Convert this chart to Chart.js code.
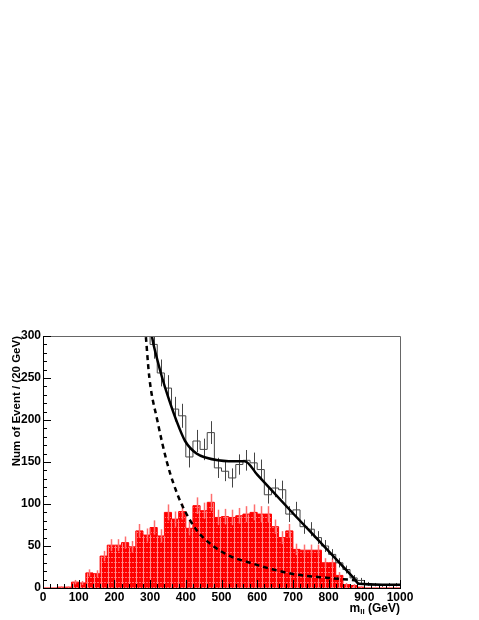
<!DOCTYPE html>
<html>
<head>
<meta charset="utf-8">
<script src="https://cdn.jsdelivr.net/npm/chart.js@4"></script>
<style>
  body { margin: 0; background: #fff; }
  canvas { display: block; }
</style>
</head>
<body>
<canvas id="massChart" width="479" height="620"></canvas>
<script>
// bins of 20 GeV from 0 to 1000 (lower edges, plus the last upper edge)
const binEdges = Array.from({ length: 51 }, (_, i) => i * 20);

// signal histogram (red, filled)
const signalCounts = [0, 0, 1, 1, 7, 6, 18, 17, 38, 51,
  51, 54, 49, 68, 63, 72, 62, 90, 82, 91,
  71, 98, 92, 102, 84, 85, 84, 86, 88, 90,
  88, 88, 73, 60, 68, 46, 45, 45, 45, 30,
  30, 15, 4, 3, 1, 0, 0, 0, 0, 0];
const signalErrors = [0, 0, 1, 1, 2.6, 2.4, 4.2, 4.1, 6.2, 7.1,
  7.1, 7.3, 7, 8.2, 7.9, 8.5, 7.9, 9.5, 9.1, 9.5,
  8.4, 9.9, 9.6, 10.1, 9.2, 9.2, 9.2, 9.3, 9.4, 9.5,
  9.4, 9.4, 8.5, 7.7, 8.2, 6.8, 6.7, 6.7, 6.7, 5.5,
  5.5, 3.9, 2, 1.7, 1, 0, 0, 0, 0, 0];

// total histogram (black outline), nothing drawn below 280 GeV (off scale)
const totalCounts = [null, null, null, null, null, null, null, null, null, null,
  null, null, null, null, 320, 290, 256, 238, 213, 205,
  156, 175, 165, 185, 143, 139, 131, 147, 152, 149,
  141, 111, 119, 117, 88, 93, 73, 70, 60, 50,
  40, 30, 22, 12, 9, 5, 4, 3, 4, 4];
const totalErrors = [0, 0, 0, 0, 0, 0, 0, 0, 0, 0,
  0, 0, 0, 0, 17.9, 17, 16, 15.4, 14.6, 14.3,
  12.5, 13.2, 12.8, 13.6, 12, 11.8, 11.4, 12.1, 12.3, 12.2,
  11.9, 10.5, 10.9, 10.8, 9.4, 9.6, 8.5, 8.4, 7.7, 7.1,
  6.3, 5.5, 4.7, 3.5, 3, 2.2, 2, 1.7, 2, 2];

// fitted curves
const fitX = [296, 305, 320, 334, 350, 373, 398, 430, 458, 490, 520, 550, 565, 600, 700, 800, 870, 885, 950, 1000];
const fitY = [330, 300, 272, 250, 228, 200, 175, 160, 155, 152, 151, 151, 151, 135, 89, 44, 12, 5, 4, 4];
const bkgX = [284, 288, 298, 320, 347, 365, 388, 430, 477, 524, 580, 645, 710, 800, 880];
const bkgY = [320, 300, 250, 200, 150, 125, 100, 69, 50, 38, 30, 22, 16, 12, 9];

const yTicks = [0, 50, 100, 150, 200, 250, 300];
const xTicks = [0, 100, 200, 300, 400, 500, 600, 700, 800, 900, 1000];

const FONT = "'Liberation Sans', Arial, sans-serif";

function histPoints(counts) {
  const pts = counts.map((c, i) => ({ x: binEdges[i], y: c }));
  pts.push({ x: binEdges[binEdges.length - 1], y: counts[counts.length - 1] });
  return pts;
}

function makeHatch() {
  const c = document.createElement('canvas');
  c.width = 7; c.height = 5;
  const g = c.getContext('2d');
  g.fillStyle = '#ff0000';
  g.fillRect(0, 0, 7, 5);
  g.fillStyle = 'rgba(255,255,255,0.55)';
  g.fillRect(3, 0, 1, 5);
  g.fillStyle = 'rgba(255,255,255,0.45)';
  for (let i = 0; i < 7; i += 2) g.fillRect(i, 2, 1, 1);
  return g.createPattern(c, 'repeat');
}

// statistical error bars, drawn right after their histogram
const errorBars = {
  id: 'errorBars',
  afterDatasetDraw(chart, args) {
    const ds = chart.data.datasets[args.index];
    if (!ds.errValues) return;
    const { ctx, chartArea, scales: { x, y } } = chart;
    ctx.save();
    ctx.beginPath();
    ctx.rect(chartArea.left, chartArea.top, chartArea.right - chartArea.left, chartArea.bottom - chartArea.top);
    ctx.clip();
    ctx.strokeStyle = ds.errColor;
    ctx.lineWidth = ds.errWidth;
    ds.errValues.forEach((v, i) => {
      const e = ds.errors[i];
      if (v == null || !e) return;
      const px = Math.round(x.getPixelForValue(binEdges[i] + 10)) + 0.5;
      ctx.beginPath();
      ctx.moveTo(px, y.getPixelForValue(v - e));
      ctx.lineTo(px, y.getPixelForValue(v + e));
      ctx.stroke();
    });
    ctx.restore();
  }
};

// ROOT-like frame with inward tick marks and the x title with subscript
const frame = {
  id: 'frame',
  afterDatasetsDraw(chart) {
    const { ctx, chartArea: a, scales: { x, y } } = chart;
    ctx.save();
    ctx.lineWidth = 1;
    ctx.strokeStyle = '#666';
    ctx.beginPath();
    ctx.moveTo(a.left, a.top + 0.5); ctx.lineTo(a.right + 0.5, a.top + 0.5);
    ctx.lineTo(a.right + 0.5, a.bottom);
    ctx.stroke();
    ctx.strokeStyle = '#000';
    ctx.beginPath();
    ctx.moveTo(a.left + 0.5, a.top); ctx.lineTo(a.left + 0.5, a.bottom + 0.5);
    ctx.lineTo(a.right + 1, a.bottom + 0.5);
    for (let v = 0; v <= 300; v += 10) {
      const py = Math.round(y.getPixelForValue(v)) + 0.5;
      ctx.moveTo(a.left, py);
      ctx.lineTo(a.left + (v % 50 === 0 ? 8 : 4), py);
    }
    for (let v = 0; v <= 1000; v += 20) {
      const px = Math.round(x.getPixelForValue(v)) + 0.5;
      ctx.moveTo(px, a.bottom);
      ctx.lineTo(px, a.bottom - (v % 100 === 0 ? 8 : 4));
    }
    ctx.stroke();

    ctx.fillStyle = '#000';
    ctx.textBaseline = 'alphabetic';
    ctx.textAlign = 'left';
    const big = 'bold 12px ' + FONT;
    const small = 'bold 8px ' + FONT;
    const base = 612;
    ctx.font = big;
    const wM = ctx.measureText('m').width;
    const wRest = ctx.measureText(' (GeV)').width;
    ctx.font = small;
    const wSub = ctx.measureText('ll').width;
    let tx = a.right - (wM + wSub + wRest);
    ctx.font = big; ctx.fillText('m', tx, base); tx += wM;
    ctx.font = small; ctx.fillText('ll', tx, base + 2); tx += wSub;
    ctx.font = big; ctx.fillText(' (GeV)', tx, base);
    ctx.restore();
  }
};

function initChart() {
  const ctx = document.getElementById('massChart');
  new Chart(ctx, {
    type: 'line',
    data: {
      datasets: [
        {
          data: fitX.map((v, i) => ({ x: v, y: fitY[i] })),
          borderColor: '#000',
          borderWidth: 2.5,
          cubicInterpolationMode: 'monotone',
          pointRadius: 0,
          fill: false
        },
        {
          data: bkgX.map((v, i) => ({ x: v, y: bkgY[i] })),
          borderColor: '#000',
          borderWidth: 2.5,
          borderDash: [5, 4],
          cubicInterpolationMode: 'monotone',
          pointRadius: 0,
          fill: false
        },
        {
          data: histPoints(totalCounts),
          borderColor: '#444',
          borderWidth: 1,
          stepped: true,
          pointRadius: 0,
          fill: false,
          errValues: totalCounts,
          errors: totalErrors,
          errColor: '#444',
          errWidth: 1
        },
        {
          data: histPoints(signalCounts),
          borderColor: '#ff0000',
          borderWidth: 1,
          backgroundColor: makeHatch(),
          stepped: true,
          pointRadius: 0,
          fill: 'origin',
          errValues: signalCounts,
          errors: signalErrors,
          errColor: 'rgba(255,110,110,1)',
          errWidth: 1.5
        }
      ]
    },
    options: {
      responsive: false,
      animation: false,
      layout: { padding: { top: 336, right: 79, left: 0, bottom: 0 } },
      plugins: { legend: { display: false }, tooltip: { enabled: false } },
      scales: {
        x: {
          type: 'linear',
          min: 0,
          max: 1000,
          afterBuildTicks: s => { s.ticks = xTicks.map(v => ({ value: v })); },
          afterFit: s => { s.height = 32; },
          grid: { display: false, drawTicks: false },
          border: { display: false },
          ticks: {
            autoSkip: false, maxRotation: 0, padding: 2, color: '#000',
            callback: v => String(v),
            font: { family: FONT, size: 12, weight: 'bold' }
          }
        },
        y: {
          min: 0,
          max: 300,
          afterBuildTicks: s => { s.ticks = yTicks.map(v => ({ value: v })); },
          afterFit: s => { s.width = 43; },
          grid: { display: false, drawTicks: false },
          border: { display: false },
          ticks: { padding: 2, color: '#000', callback: v => String(v), font: { family: FONT, size: 12, weight: 'bold' } },
          title: {
            display: true,
            text: 'Num of Event / (20 GeV)',
            align: 'end',
            color: '#000',
            padding: { top: 10, bottom: 0 },
            font: { family: FONT, size: 11.5, weight: 'bold' }
          }
        }
      }
    },
    plugins: [errorBars, frame]
  });
}

initChart();
</script>
</body>
</html>
